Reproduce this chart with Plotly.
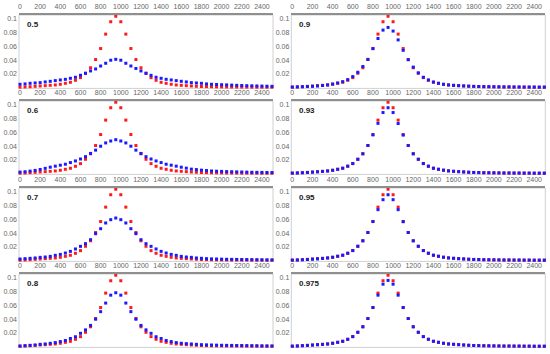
import plotly.graph_objects as go

X_VALUES = list(range(0, 2501, 50))

PANEL_LABELS = ["0.5", "0.6", "0.7", "0.8", "0.9", "0.93", "0.95", "0.975"]

RED = [0.0008, 0.0011, 0.0015, 0.002, 0.0025, 0.003, 0.0035, 0.004, 0.005, 0.0064,
       0.0079, 0.0108, 0.0147, 0.021, 0.029, 0.041, 0.057, 0.078, 0.096, 0.104,
       0.096, 0.078, 0.057, 0.041, 0.029, 0.021, 0.0147, 0.0108, 0.0079, 0.0064,
       0.005, 0.004, 0.0035, 0.003, 0.0025, 0.0021, 0.0018, 0.0016, 0.0014, 0.0013,
       0.0012, 0.0011, 0.001, 0.001, 0.0009, 0.0009, 0.0008, 0.0008, 0.0007, 0.0007, 0.0007]

BLUE_05 = [0.005, 0.0055, 0.0064, 0.0069, 0.0074, 0.0084, 0.0093, 0.0103, 0.0113, 0.0122,
           0.0137, 0.0152, 0.0181, 0.021, 0.0244, 0.0273, 0.0316, 0.0356, 0.040, 0.0413,
           0.040, 0.0356, 0.0316, 0.028, 0.0244, 0.021, 0.018, 0.0152, 0.0137, 0.0122,
           0.0113, 0.0103, 0.0093, 0.0084, 0.0074, 0.0069, 0.0064, 0.0055, 0.005, 0.0047,
           0.0044, 0.0041, 0.0038, 0.0035, 0.0032, 0.003, 0.0028, 0.0026, 0.0024, 0.0022, 0.002]

BLUE_06 = [0.0024, 0.0029, 0.0038, 0.0048, 0.0062, 0.0078, 0.0095, 0.011, 0.0124, 0.0138,
           0.0162, 0.0186, 0.0214, 0.0248, 0.0295, 0.0343, 0.040, 0.0448, 0.0476, 0.0495,
           0.0476, 0.0448, 0.040, 0.0343, 0.0295, 0.0248, 0.0214, 0.0186, 0.0162, 0.0138,
           0.0124, 0.011, 0.0095, 0.0081, 0.0067, 0.006, 0.0052, 0.0046, 0.004, 0.0037,
           0.0034, 0.0031, 0.0029, 0.0027, 0.0025, 0.0023, 0.0021, 0.002, 0.0019, 0.0018, 0.0017]

BLUE_07 = [0.0025, 0.003, 0.0035, 0.004, 0.0049, 0.0054, 0.0063, 0.0078, 0.0092, 0.0112,
           0.0136, 0.0171, 0.0209, 0.0248, 0.0306, 0.0393, 0.0466, 0.0549, 0.0597, 0.0621,
           0.0597, 0.0549, 0.0466, 0.0393, 0.0306, 0.0248, 0.0209, 0.0171, 0.0136, 0.0112,
           0.0092, 0.0078, 0.0063, 0.0054, 0.0049, 0.004, 0.0035, 0.003, 0.0027, 0.0025,
           0.0023, 0.0021, 0.002, 0.0019, 0.0018, 0.0017, 0.0016, 0.0015, 0.0014, 0.0013, 0.0012]

BLUE_08 = [0.001, 0.0015, 0.002, 0.0025, 0.0035, 0.004, 0.005, 0.006, 0.0075, 0.009,
           0.012, 0.0145, 0.0195, 0.0245, 0.031, 0.040, 0.051, 0.0635, 0.075, 0.0785,
           0.075, 0.0635, 0.051, 0.040, 0.031, 0.0245, 0.0195, 0.0145, 0.012, 0.009,
           0.0075, 0.006, 0.005, 0.0045, 0.004, 0.0035, 0.003, 0.0027, 0.0025, 0.0023,
           0.0021, 0.002, 0.0019, 0.0018, 0.0017, 0.0016, 0.0015, 0.0014, 0.0013, 0.0012, 0.0011]

BLUE_09 = [0.001, 0.0012, 0.0014, 0.0017, 0.002, 0.0025, 0.0032, 0.004, 0.0054, 0.0069,
           0.0088, 0.0118, 0.0162, 0.0225, 0.0309, 0.0412, 0.0569, 0.0716, 0.0838, 0.0877,
           0.0824, 0.0696, 0.0544, 0.0407, 0.030, 0.0216, 0.0152, 0.0113, 0.0083, 0.0064,
           0.0049, 0.004, 0.0034, 0.003, 0.0026, 0.0023, 0.002, 0.0018, 0.0016, 0.0015,
           0.0014, 0.0013, 0.0012, 0.0012, 0.0011, 0.0011, 0.001, 0.001, 0.001, 0.0009, 0.0009]

BLUE_093 = [0.0009, 0.0011, 0.0014, 0.0018, 0.0022, 0.0027, 0.0033, 0.004, 0.005, 0.0065,
            0.008, 0.011, 0.0148, 0.021, 0.029, 0.041, 0.0565, 0.0733, 0.089, 0.096,
            0.089, 0.073, 0.0562, 0.041, 0.029, 0.021, 0.0148, 0.011, 0.008, 0.0065,
            0.0052, 0.0042, 0.0035, 0.003, 0.0026, 0.0022, 0.0019, 0.0017, 0.0015, 0.0014,
            0.0013, 0.0012, 0.0011, 0.0011, 0.001, 0.001, 0.0009, 0.0009, 0.0008, 0.0008, 0.0008]

BLUE_095 = [0.0009, 0.0011, 0.0014, 0.0018, 0.0022, 0.0027, 0.0033, 0.004, 0.005, 0.0065,
            0.008, 0.0109, 0.0148, 0.021, 0.029, 0.041, 0.057, 0.0743, 0.0888, 0.096,
            0.0888, 0.0743, 0.0568, 0.041, 0.029, 0.021, 0.0148, 0.0109, 0.008, 0.0065,
            0.0051, 0.0041, 0.0035, 0.003, 0.0026, 0.0022, 0.0019, 0.0017, 0.0015, 0.0014,
            0.0013, 0.0012, 0.0011, 0.0011, 0.001, 0.001, 0.0009, 0.0009, 0.0008, 0.0008, 0.0008]

BLUE_0975 = [0.0008, 0.0011, 0.0015, 0.0019, 0.0024, 0.0029, 0.0034, 0.004, 0.005, 0.0064,
             0.0079, 0.0108, 0.0147, 0.021, 0.029, 0.041, 0.057, 0.075, 0.091, 0.0965,
             0.091, 0.075, 0.057, 0.041, 0.029, 0.021, 0.0147, 0.0108, 0.0079, 0.0064,
             0.005, 0.004, 0.0035, 0.003, 0.0025, 0.0021, 0.0018, 0.0016, 0.0014, 0.0013,
             0.0012, 0.0011, 0.001, 0.001, 0.0009, 0.0009, 0.0008, 0.0008, 0.0007, 0.0007, 0.0007]

BLUE_SERIES = [BLUE_05, BLUE_06, BLUE_07, BLUE_08, BLUE_09, BLUE_093, BLUE_095, BLUE_0975]

X_TICKS = list(range(0, 2401, 200))
Y_TICKS = [0.02, 0.04, 0.06, 0.08, 0.1]
Y_TICK_TEXT = ["0.02", "0.04", "0.06", "0.08", "0.1"]

W, H = 550, 354
COL_X = [(19, 273), (291.3, 545.3)]
ROW_TOPS = [15, 101, 188, 274]
PLOT_H = 73.4

TICK_FONT = dict(family="Liberation Sans, Arial, sans-serif", size=7, color="#666666")

fig = go.Figure()
layout = dict(
    width=W, height=H,
    margin=dict(l=0, r=0, t=0, b=0, autoexpand=False),
    paper_bgcolor="white", plot_bgcolor="white",
    showlegend=False,
    shapes=[], annotations=[],
)

for i, label in enumerate(PANEL_LABELS):
    col = i // 4
    row = i % 4
    n = i + 1
    xa = "x" if n == 1 else f"x{n}"
    ya = "y" if n == 1 else f"y{n}"
    xk = "xaxis" if n == 1 else f"xaxis{n}"
    yk = "yaxis" if n == 1 else f"yaxis{n}"
    x0, x1 = COL_X[col]
    top = ROW_TOPS[row]
    bot = top + PLOT_H
    layout[xk] = dict(
        domain=[x0 / W, x1 / W], anchor=ya, side="top",
        range=[-10, 2510], tickvals=X_TICKS, ticks="",
        showgrid=False, zeroline=False, automargin=False,
        showline=True, linecolor="#8f8f8f", linewidth=1.5,
        tickfont=TICK_FONT, ticklabelstandoff=1,
    )
    layout[yk] = dict(
        domain=[1 - bot / H, 1 - top / H], anchor=xa,
        range=[-0.001, 0.1058], tickvals=Y_TICKS, ticktext=Y_TICK_TEXT,
        ticks="", showgrid=False, zeroline=False, showline=False, automargin=False,
        tickfont=TICK_FONT, ticklabelstandoff=1,
    )
    layout["shapes"].append(dict(
        type="rect", xref=f"{xa} domain", yref=f"{ya} domain",
        x0=0, x1=1, y0=0, y1=1, line=dict(color="#d0d0d0", width=1), layer="below",
    ))
    layout["annotations"].append(dict(
        text=f"<b>{label}</b>", xref=f"{xa} domain", yref=f"{ya} domain",
        x=0.024, y=0.875, xanchor="left", yanchor="middle", showarrow=False,
        font=dict(family="Liberation Sans, Arial, sans-serif", size=8, color="#222222"),
    ))
    fig.add_trace(go.Scatter(
        x=X_VALUES, y=RED, mode="markers", xaxis=xa, yaxis=ya,
        marker=dict(symbol="square", size=3, color="#ff1a1a", line=dict(width=0)),
        cliponaxis=False,
    ))
    fig.add_trace(go.Scatter(
        x=X_VALUES, y=BLUE_SERIES[i], mode="markers", xaxis=xa, yaxis=ya,
        marker=dict(symbol="square", size=3, color="#1a1aff", line=dict(width=0)),
        cliponaxis=False,
    ))

fig.update_layout(**layout)
fig.write_html("out.html", config={"displayModeBar": False},
               post_script="document.body.style.margin='0px';")
